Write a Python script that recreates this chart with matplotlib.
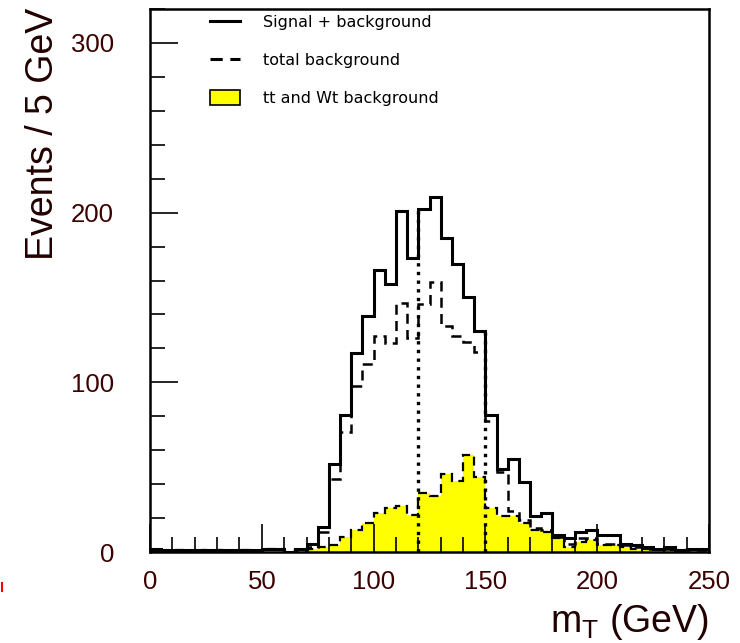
import numpy as np
import matplotlib
matplotlib.use('Agg')
import matplotlib.pyplot as plt
from matplotlib.lines import Line2D
from matplotlib.patches import Patch
from matplotlib.ticker import MultipleLocator

# 5 GeV bins, 0-250 GeV
edges = np.arange(0, 255, 5)

sig_bkg = [2, 1, 1, 1, 1, 1, 1, 1, 1, 1,
           2, 2, 0, 2, 5, 15, 52, 81, 117, 139,
           166, 158, 201, 173, 202, 209, 185, 170, 150, 130,
           81, 49, 55, 41, 21, 23, 10, 8, 12, 13,
           10, 10, 5, 4, 3, 2, 3, 1, 2, 2]
tot_bkg = [1, 1, 1, 1, 1, 1, 1, 1, 1, 1,
           2, 2, 0, 1, 3, 12, 43, 71, 98, 111,
           127, 123, 147, 126, 146, 159, 133, 127, 124, 118,
           77, 47, 24, 19, 14, 13, 9, 5, 8, 8,
           5, 5, 4, 3, 2, 2, 2, 1, 1, 1]
tt_wt = [1, 0.5, 1, 0.5, 1, 0.5, 1, 0.5, 1, 0.5,
         2, 2, 0, 1, 2, 3, 4, 9, 13, 17,
         23, 26, 27, 22, 35, 33, 46, 42, 57, 44,
         26, 21, 21, 17, 13, 12, 8, 3, 6, 7,
         4, 4, 3, 2, 2, 1, 1, 1, 1, 1]

cuts = [120, 150]

labels = ['Signal + background', 'total background', 'tt and Wt background']

sig_bkg = np.array(sig_bkg, dtype=float)
lab_col = '#3c0000'

fig = plt.figure(figsize=(7.4, 6.43), dpi=100)
ax = fig.add_axes([150/740, 1 - 552/643, 559/740, 543/643])

ax.stairs(tt_wt, edges, fill=True, color='#ffff00', lw=0)
ax.stairs(tt_wt, edges, color='black', lw=1.6, linestyle=(0, (4, 2.5)))
ax.stairs(tot_bkg, edges, color='black', lw=1.8, linestyle=(0, (4, 2.5)))
ax.stairs(sig_bkg, edges, color='black', lw=2.2)

# cut lines up to the signal+background histogram
for c in cuts:
    i = np.searchsorted(edges, c)
    top = max(sig_bkg[i - 1], sig_bkg[i])
    ax.plot([c, c], [0, top], color='black', lw=2.4, linestyle=(0, (1, 1.6)))

ax.set_xlim(0, 250)
ax.set_ylim(0, 320)
ax.xaxis.set_major_locator(MultipleLocator(50))
ax.xaxis.set_minor_locator(MultipleLocator(10))
ax.yaxis.set_major_locator(MultipleLocator(100))
ax.yaxis.set_minor_locator(MultipleLocator(20))
ax.tick_params(which='both', direction='in', top=False, right=False, width=1.2)
ax.tick_params(which='major', length=20)
ax.tick_params(which='minor', length=11)
ax.tick_params(axis='y', which='major', pad=26, labelsize=18.5, labelcolor=lab_col)
ax.tick_params(axis='x', which='major', pad=13, labelsize=18.5, labelcolor=lab_col)
for t in ax.get_xticklabels() + ax.get_yticklabels():
    t.set_family('Liberation Sans')
for s in ax.spines.values():
    s.set_linewidth(1.8)

ax.set_ylabel('Events / 5 GeV', fontsize=27, family='Liberation Sans', color='#200000')
ax.yaxis.set_label_coords(-0.16, 0.77)
ax.set_xlabel('m$_\\mathregular{T}$ (GeV)', fontsize=27, family='Liberation Sans',
              color='#200000')
ax.xaxis.set_label_coords(1.0, -0.092)
ax.xaxis.label.set_ha('right')

handles = [Line2D([], [], color='black', lw=2.2),
           Line2D([], [], color='black', lw=2.2, linestyle=(0, (4, 2.5))),
           Patch(facecolor='#ffff00', edgecolor='black', lw=1.2)]
ax.legend(handles, labels, loc='upper left', bbox_to_anchor=(0.107, 0.99),
          frameon=False, prop={'family': 'DejaVu Sans', 'size': 11.5},
          borderpad=0, borderaxespad=0, handlelength=1.9, handleheight=1.0,
          handletextpad=1.4, labelspacing=1.4)

fig.add_artist(Line2D([1.5/740, 1.5/740], [1 - 591/643, 1 - 583/643],
                      color='red', lw=1.5))

fig.savefig('out.png', dpi=100)
